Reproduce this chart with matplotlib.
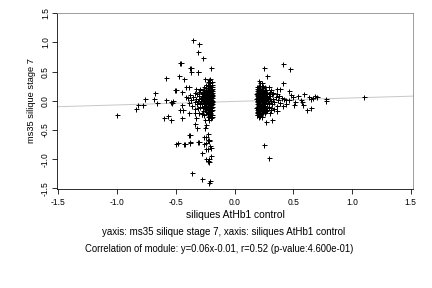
import matplotlib
matplotlib.use('Agg')
import matplotlib.pyplot as plt

plt.rcParams['font.family'] = ['Liberation Sans', 'DejaVu Sans']

X_LABEL = 'siliques AtHb1 control'
Y_LABEL = 'ms35 silique stage 7'
LINE1 = 'yaxis: ms35 silique stage 7, xaxis: siliques AtHb1 control'
LINE2 = 'Correlation of module: y=0.06x-0.01, r=0.52 (p-value:4.600e-01)'

SLOPE = 0.06
INTERCEPT = -0.01

TICKS = [-1.5, -1.0, -0.5, 0.0, 0.5, 1.0, 1.5]
TICK_LABELS = ['-1.5', '-1.0', '-0.5', '0.0', '0.5', '1.0', '1.5']

# sparse points on the left side
left_x = [-1.00, -0.84, -0.82, -0.78, -0.76, -0.685, -0.677, -0.66, -0.585, -0.58,
          -0.60, -0.57, -0.54, -0.54, -0.52, -0.50, -0.50, -0.46, -0.47, -0.45,
          -0.43, -0.43, -0.38, -0.38, -0.35, -0.30, -0.31, -0.266, -0.37, -0.31,
          -0.20, -0.31, -0.26, -0.23, -0.21, -0.48, -0.42, -0.38, -0.30, -0.26,
          -0.24, -0.22, -0.20, -0.225, -0.28, -0.20, -0.245, -0.23, -0.22, -0.22,
          -0.36, -0.28, -0.21, -0.215, -0.46, -0.435, -0.385, -0.336, -0.33, -0.28,
          -0.336, -0.32, -0.39, -0.243, -0.22, -0.23, -0.25, -0.243, -0.22, -0.21,
          -0.25, -0.24, -0.455, -0.38, -0.37, -0.31, -0.25, -0.23, -0.21, -0.39,
          -0.415, -0.51, -0.45, -0.29, -0.34, -0.41, -0.38, -0.535, -0.45]
left_y = [-0.24, -0.14, -0.07, -0.07, 0.03, 0.04, 0.13, -0.03, 0.39, 0.01,
          -0.29, -0.26, -0.33, -0.02, 0.00, 0.19, -0.74, 0.65, 0.43, -0.29,
          0.37, -0.74, -0.59, -0.72, 1.05, 0.97, 0.84, 0.73, 0.56, 0.50,
          0.56, -0.70, -0.62, -0.67, -0.78, -0.73, -0.74, -0.71, -0.70, -0.74,
          -0.72, -0.68, -0.81, -0.83, -0.90, -0.95, -1.00, -1.03, -1.00, -1.05,
          -1.24, -1.34, -1.37, -1.41, -0.16, -0.16, -0.21, -0.21, -0.30, -0.23,
          -0.39, -0.47, -0.59, -0.62, -0.67, -0.56, -0.47, -0.415, -0.33, -0.24,
          -0.33, -0.82, 0.64, 0.56, 0.50, 0.49, 0.37, 0.33, 0.31, 0.24,
          0.23, 0.185, 0.16, 0.185, 0.13, 0.07, 0.10, -0.04, -0.07]

# dense block left of zero
lcore_x = [-0.20, -0.21, -0.22, -0.19, -0.23, -0.20, -0.24, -0.21, -0.25, -0.19,
           -0.22, -0.20, -0.26, -0.23, -0.27, -0.21, -0.24, -0.19, -0.20, -0.22,
           -0.28, -0.25, -0.23, -0.19, -0.21, -0.26, -0.29, -0.24, -0.20, -0.22,
           -0.30, -0.27, -0.31, -0.25, -0.19, -0.23, -0.20, -0.28, -0.24, -0.21,
           -0.26, -0.22, -0.32, -0.30, -0.29, -0.27, -0.33, -0.25, -0.19, -0.20,
           -0.21, -0.23, -0.24, -0.26, -0.22, -0.28, -0.19, -0.20, -0.21, -0.22,
           -0.23, -0.24, -0.25, -0.27, -0.29, -0.31, -0.34, -0.35, -0.36, -0.30,
           -0.26, -0.20, -0.19, -0.22, -0.21, -0.23, -0.20, -0.24, -0.27, -0.28,
           -0.21, -0.20, -0.22, -0.23, -0.19, -0.25, -0.24, -0.26, -0.20, -0.21,
           -0.19, -0.22, -0.32, -0.34, -0.37, -0.39, -0.40, -0.33,
           -0.195, -0.205, -0.215, -0.225, -0.235, -0.245, -0.255, -0.265, -0.195, -0.205,
           -0.215, -0.225, -0.235, -0.245, -0.255, -0.195, -0.205, -0.215, -0.225, -0.235,
           -0.195, -0.205, -0.215, -0.225, -0.245, -0.275, -0.285, -0.305, -0.195, -0.215,
           -0.235, -0.255, -0.275, -0.205, -0.225, -0.245, -0.265, -0.285, -0.195, -0.215]
lcore_y = [0.02, -0.05, 0.08, -0.10, 0.00, 0.12, -0.03, 0.15, 0.05, 0.20,
           -0.12, -0.18, -0.08, 0.18, 0.02, 0.25, 0.10, 0.05, -0.07, -0.02,
           0.06, -0.14, -0.20, -0.25, 0.04, 0.13, -0.03, 0.22, 0.09, 0.11,
           0.08, -0.12, 0.00, 0.17, 0.14, -0.08, -0.13, -0.06, -0.16, -0.22,
           0.24, 0.28, -0.05, 0.15, 0.20, 0.09, 0.03, -0.01, -0.02, 0.18,
           -0.15, 0.06, 0.03, -0.04, 0.21, 0.12, 0.09, -0.04, 0.07, -0.09,
           0.13, -0.11, 0.09, -0.18, -0.10, -0.12, -0.02, 0.06, -0.08, -0.20,
           -0.24, 0.24, 0.28, 0.35, 0.38, -0.28, -0.30, 0.27, 0.19, -0.22,
           0.00, 0.06, 0.01, -0.05, -0.06, 0.01, 0.07, 0.04, -0.10, 0.11,
           0.17, 0.16, 0.11, -0.14, 0.02, -0.04, 0.05, 0.20,
           -0.01, 0.03, -0.07, 0.05, 0.08, -0.06, 0.03, 0.07, 0.10, -0.11,
           0.12, -0.14, -0.02, 0.14, -0.09, -0.15, 0.16, -0.17, 0.19, -0.12,
           0.23, -0.20, 0.20, -0.23, -0.19, 0.13, -0.01, 0.03, 0.33, -0.26,
           0.10, 0.12, -0.06, -0.08, 0.26, 0.16, -0.13, 0.05, -0.28, 0.31]

# sparse points on the right side
right_x = [0.25, 0.41, 0.47, 0.28, 0.415, 0.23, 0.245, 0.29, 0.36, 0.39,
           0.46, 0.59, 0.54, 0.50, 0.63, 0.65, 0.685, 0.70, 0.67, 0.566,
           0.577, 0.515, 0.506, 0.585, 0.62, 0.65, 0.78, 0.78, 0.364, 0.31,
           0.317, 0.265, 0.25, 0.296, 0.44, 1.105, 0.21, 0.22]
right_y = [0.56, 0.63, 0.54, 0.43, 0.30, 0.30, 0.24, 0.24, 0.20, 0.20,
           0.17, 0.12, 0.09, 0.07, 0.06, 0.025, 0.08, 0.07, 0.05, 0.015,
           -0.015, -0.015, -0.07, -0.07, -0.15, -0.13, 0.03, 0.00, -0.175, -0.16,
           -0.32, -0.36, -0.76, -0.975, 0.01, 0.065, 0.34, 0.30]

# dense block right of zero
rcore_x = [0.20, 0.21, 0.22, 0.19, 0.23, 0.20, 0.24, 0.21, 0.25, 0.19,
           0.22, 0.20, 0.26, 0.23, 0.27, 0.21, 0.24, 0.19, 0.20, 0.22,
           0.28, 0.25, 0.23, 0.19, 0.21, 0.26, 0.29, 0.24, 0.20, 0.22,
           0.30, 0.27, 0.31, 0.25, 0.19, 0.23, 0.20, 0.28, 0.24, 0.21,
           0.26, 0.32, 0.30, 0.29, 0.27, 0.33, 0.25, 0.19, 0.20, 0.21,
           0.23, 0.24, 0.26, 0.22, 0.28, 0.19, 0.20, 0.21, 0.22, 0.23,
           0.24, 0.25, 0.27, 0.29, 0.31, 0.34, 0.35, 0.36, 0.30, 0.26,
           0.20, 0.19, 0.22, 0.21, 0.23, 0.20, 0.24, 0.27, 0.28, 0.21,
           0.20, 0.22, 0.23, 0.19, 0.25, 0.24, 0.26, 0.20, 0.21, 0.19,
           0.22, 0.32, 0.34, 0.37, 0.39, 0.40, 0.33, 0.38, 0.42, 0.44,
           0.46, 0.48, 0.41, 0.36, 0.31, 0.18, 0.18, 0.18,
           0.195, 0.205, 0.215, 0.225, 0.235, 0.245, 0.255, 0.265, 0.195, 0.205,
           0.215, 0.225, 0.235, 0.245, 0.255, 0.195, 0.205, 0.215, 0.225, 0.235,
           0.195, 0.205, 0.215, 0.225, 0.245, 0.275, 0.285, 0.305, 0.195, 0.215,
           0.235, 0.255, 0.275, 0.205, 0.225, 0.245, 0.265, 0.285, 0.195, 0.215]
rcore_y = [0.02, -0.05, 0.08, -0.10, 0.00, 0.12, -0.03, 0.15, 0.05, 0.20,
           -0.12, -0.18, -0.08, 0.18, 0.02, 0.25, 0.10, 0.05, -0.07, -0.02,
           0.06, -0.14, -0.20, -0.25, 0.04, 0.13, -0.03, 0.22, 0.09, 0.11,
           0.08, -0.12, 0.00, 0.17, 0.14, -0.08, -0.13, -0.06, -0.16, -0.22,
           0.24, -0.05, 0.15, 0.11, 0.09, 0.03, -0.01, -0.02, 0.18, -0.15,
           0.06, 0.03, -0.04, 0.21, 0.12, 0.09, -0.04, 0.07, -0.09, 0.13,
           -0.11, 0.09, -0.18, -0.10, -0.12, -0.02, 0.06, -0.08, -0.20, -0.21,
           0.24, -0.19, -0.24, -0.27, -0.28, -0.22, 0.26, 0.19, -0.15, 0.00,
           0.06, 0.01, -0.05, -0.06, 0.01, 0.07, 0.04, -0.10, 0.11, 0.17,
           0.16, 0.11, -0.14, 0.02, -0.04, 0.05, 0.14, 0.09, 0.04, -0.06,
           0.02, 0.10, -0.09, 0.12, 0.19, -0.12, 0.04, 0.11,
           -0.01, 0.03, -0.07, 0.05, 0.08, -0.06, 0.03, 0.07, 0.10, -0.11,
           0.12, -0.14, -0.02, 0.14, -0.09, -0.15, 0.16, -0.17, 0.19, -0.12,
           0.23, -0.20, 0.20, -0.23, -0.19, 0.13, -0.01, 0.03, -0.21, -0.26,
           0.10, 0.12, -0.06, -0.08, 0.02, 0.16, -0.13, 0.05, -0.25, 0.07]

W, H = 432, 288
fig = plt.figure(figsize=(W / 72, H / 72), dpi=72)
ax = fig.add_axes([57 / W, 1 - 189 / H, 356 / W, 176 / H])

xs = left_x + lcore_x + rcore_x + right_x
ys = left_y + lcore_y + rcore_y + right_y
ax.plot(xs, ys, linestyle='none', marker='+', color='black', ms=5, mew=1.0, zorder=3)

# abline across the whole region
ax.axline((0, INTERCEPT), slope=SLOPE, color='#c8c8c8', lw=1.0, zorder=2)

ax.set_xlim(-1.511, 1.519)
ax.set_ylim(-1.51, 1.505)
ax.set_xticks(TICKS)
ax.set_xticklabels(TICK_LABELS)
ax.set_yticks(TICKS)
ax.set_yticklabels(TICK_LABELS, rotation=90, va='center')
ax.tick_params(length=5, width=0.8, labelsize=8.5, color='black')
ax.tick_params(axis='x', pad=4)
ax.tick_params(axis='y', pad=2)

for side in ('top', 'right'):
    ax.spines[side].set_color('#888888')
    ax.spines[side].set_linewidth(0.8)
for side in ('left', 'bottom'):
    ax.spines[side].set_color('black')
    ax.spines[side].set_linewidth(0.8)

ax.set_xlabel(X_LABEL, fontsize=10.3, labelpad=3)
ax.set_ylabel(Y_LABEL, fontsize=9.2, labelpad=5)

fig.text(224 / W, 1 - 232 / H, LINE1, ha='center', va='center', fontsize=9.7)
fig.text(219 / W, 1 - 249 / H, LINE2, ha='center', va='center', fontsize=9.5)

fig.savefig('out.png', dpi=72)
